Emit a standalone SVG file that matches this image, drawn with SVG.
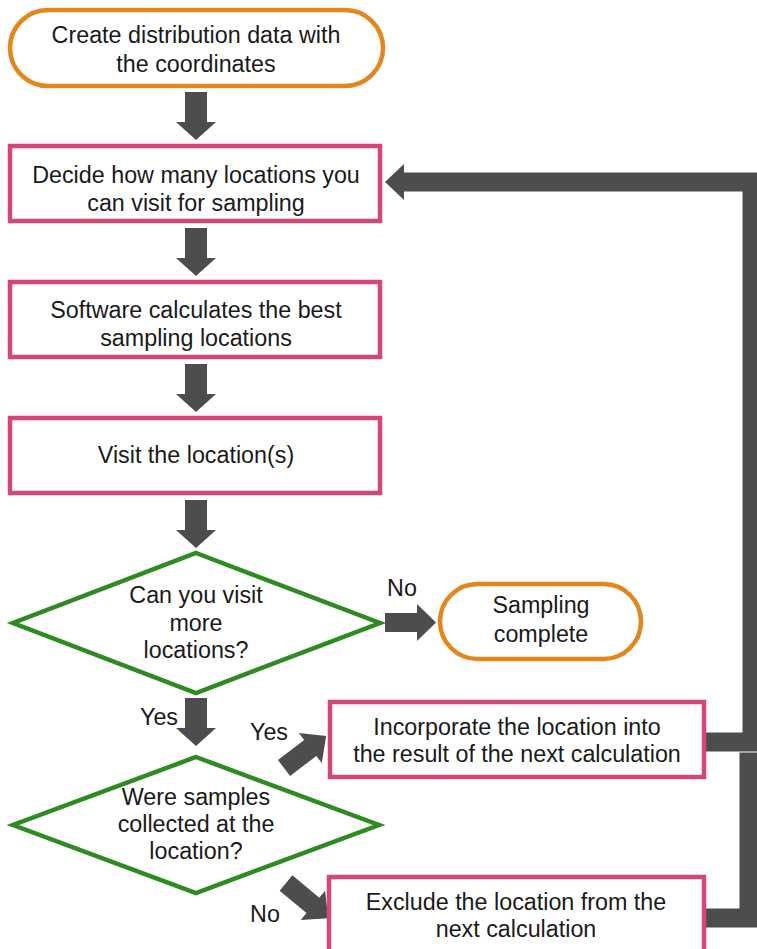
<svg xmlns="http://www.w3.org/2000/svg" width="757" height="949" viewBox="0 0 757 949">
<style>
.term{fill:#fff;stroke:#e3861b;stroke-width:4.5}
.proc{fill:#fff;stroke:#d24a73;stroke-width:4.5}
.dec{fill:#fff;stroke:#2e8b22;stroke-width:4.5}
.arr{fill:#4d4d4d}
.line{fill:none;stroke:#4d4d4d;stroke-width:19;stroke-linejoin:miter}
text{font-family:"Liberation Sans",Arial,sans-serif;font-size:23.3px;fill:#1a1a1a;text-anchor:middle}
</style>
<rect width="757" height="949" fill="#fff"/>
<g id="connectors">
  <path class="arr" d="M185,92 H207 V122 H216 L196,140 L176,122 H185 Z"/>
  <path class="arr" d="M185,228 H207 V258 H216 L196,276 L176,258 H185 Z"/>
  <path class="arr" d="M185,364 H207 V394 H216 L196,412 L176,394 H185 Z"/>
  <path class="arr" d="M185,500 H207 V530 H216 L196,548 L176,530 H185 Z"/>
  <path class="arr" d="M185,698 H207 V728 H216 L196,746 L176,728 H185 Z"/>
  <path class="arr" d="M385,613 H417 V604 L436,622.5 L417,641 V632 H385 Z"/>
  <path class="arr" transform="translate(284,768) rotate(-37.3)" d="M0,-10 H33 V-19 L53,0 L33,19 V10 H0 Z"/>
  <path class="arr" transform="translate(286,883) rotate(39.8)" d="M0,-10 H35 V-19 L55,0 L35,19 V10 H0 Z"/>
  <path class="line" d="M706,742 H752 V182 H402"/>
  <path class="arr" d="M404,164 L385,182 L404,200 Z"/>
  <path class="line" d="M706,918 H749 V752.5"/>
  <text x="402" y="596">No</text>
  <text x="159" y="725">Yes</text>
  <text x="269" y="740">Yes</text>
  <text x="265" y="922">No</text>
</g>
<g id="start">
  <rect class="term" x="10" y="10" width="373" height="76" rx="38"/>
  <text x="196" y="43">Create distribution data with</text>
  <text x="196" y="72">the coordinates</text>
</g>
<g id="decide">
  <rect class="proc" x="10" y="146" width="370" height="75"/>
  <text x="196" y="183">Decide how many locations you</text>
  <text x="196" y="211">can visit for sampling</text>
</g>
<g id="software">
  <rect class="proc" x="10" y="282" width="370" height="75"/>
  <text x="196" y="318">Software calculates the best</text>
  <text x="196" y="346">sampling locations</text>
</g>
<g id="visit">
  <rect class="proc" x="10" y="418" width="370" height="75"/>
  <text x="196" y="463">Visit the location(s)</text>
</g>
<g id="more">
  <polygon class="dec" points="196,553 380,623 196,693 13,623"/>
  <text x="196" y="603">Can you visit</text>
  <text x="196" y="631">more</text>
  <text x="196" y="658">locations?</text>
</g>
<g id="complete">
  <rect class="term" x="440" y="584" width="201" height="75" rx="37.5"/>
  <text x="541" y="613">Sampling</text>
  <text x="541" y="642">complete</text>
</g>
<g id="collected">
  <polygon class="dec" points="196,757 379,825 196,893 13,825"/>
  <text x="196" y="805">Were samples</text>
  <text x="196" y="832">collected at the</text>
  <text x="196" y="859">location?</text>
</g>
<g id="incorporate">
  <rect class="proc" x="330" y="702" width="374" height="75"/>
  <text x="517" y="735">Incorporate the location into</text>
  <text x="517" y="762">the result of the next calculation</text>
</g>
<g id="exclude">
  <rect class="proc" x="329" y="877" width="375" height="80"/>
  <text x="516" y="910">Exclude the location from the</text>
  <text x="516" y="937">next calculation</text>
</g>
</svg>
